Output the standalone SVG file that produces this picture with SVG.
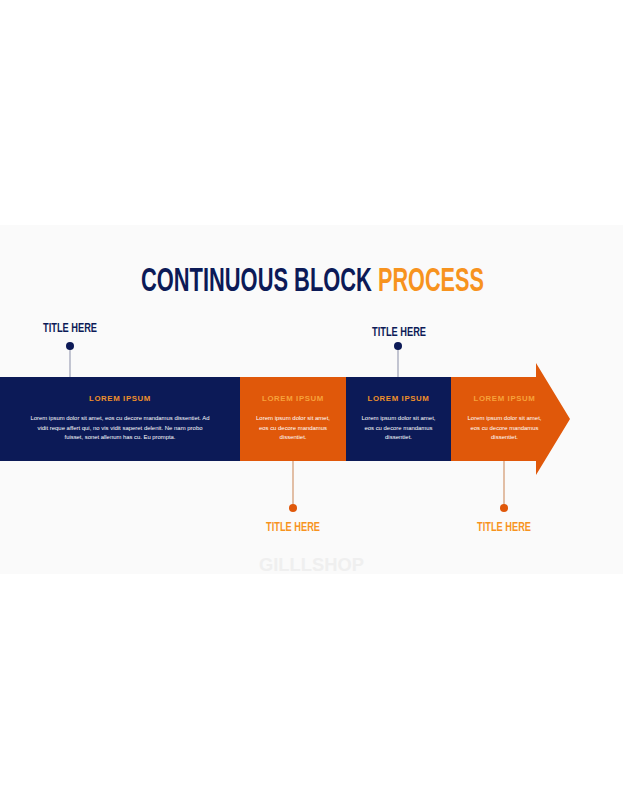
<svg xmlns="http://www.w3.org/2000/svg" width="623" height="800" viewBox="0 0 623 800">
<style>
.title{font-family:"Liberation Sans",Arial,sans-serif;font-weight:bold;font-size:33px}
.pin{font-family:"Liberation Sans",Arial,sans-serif;font-weight:bold;font-size:13px}
.head{font-family:"Liberation Sans",Arial,sans-serif;font-weight:bold;font-size:7.5px;letter-spacing:0.6px;text-anchor:middle}
.body{font-family:"Liberation Sans",Arial,sans-serif;font-size:5.3px;fill:#ffffff;text-anchor:middle}
.navy{fill:#0c1a57}
.orange{fill:#e0580a}
</style>
<rect x="0" y="0" width="623" height="800" fill="#ffffff"/>
<rect x="0" y="225" width="623" height="349" fill="#fafafa"/>
<text x="311.5" y="571" font-family="Liberation Sans,Arial,sans-serif" font-weight="bold" font-size="19" fill="#efefef" text-anchor="middle" textLength="105" lengthAdjust="spacingAndGlyphs">GILLLSHOP</text>
<g id="title">
<text class="title" transform="translate(141,291) scale(0.663,1)" x="0" y="0" fill="#0c1a57">CONTINUOUS BLOCK</text>
<text class="title" transform="translate(378,291) scale(0.657,1)" x="0" y="0" fill="#f7931e">PROCESS</text>
</g>
<g id="connectors">
<line x1="70" y1="346" x2="70" y2="377" stroke="#8a8fa8" stroke-width="1"/>
<line x1="398" y1="346" x2="398" y2="377" stroke="#8a8fa8" stroke-width="1"/>
<line x1="293" y1="461" x2="293" y2="508" stroke="#c98250" stroke-width="1"/>
<line x1="504" y1="461" x2="504" y2="508" stroke="#c98250" stroke-width="1"/>
</g>
<g id="block1">
<rect class="navy" x="0" y="377" width="240" height="84"/>
<text class="head" x="120" y="401" fill="#f0902a" textLength="62" lengthAdjust="spacingAndGlyphs">LOREM IPSUM</text>
<text class="body" x="120" y="420" textLength="179" lengthAdjust="spacingAndGlyphs">Lorem ipsum dolor sit amet, eos cu decore mandamus dissentiet. Ad</text>
<text class="body" x="120" y="429.5" textLength="165" lengthAdjust="spacingAndGlyphs">vidit reque affert qui, no vis vidit saperet delenit. Ne nam probo</text>
<text class="body" x="120" y="439" textLength="111" lengthAdjust="spacingAndGlyphs">fuisset, sonet allenum has cu. Eu prompta.</text>
</g>
<g id="block2">
<rect class="orange" x="240" y="377" width="106" height="84"/>
<text class="head" x="293" y="401" fill="#f7a23a" textLength="62" lengthAdjust="spacingAndGlyphs">LOREM IPSUM</text>
<text class="body" x="293" y="420" textLength="74" lengthAdjust="spacingAndGlyphs">Lorem ipsum dolor sit amet,</text>
<text class="body" x="293" y="429.5" textLength="68" lengthAdjust="spacingAndGlyphs">eos cu decore mandamus</text>
<text class="body" x="293" y="439" textLength="27" lengthAdjust="spacingAndGlyphs">dissentiet.</text>
</g>
<g id="block3">
<rect class="navy" x="346" y="377" width="105" height="84"/>
<text class="head" x="398.5" y="401" fill="#f0902a" textLength="62" lengthAdjust="spacingAndGlyphs">LOREM IPSUM</text>
<text class="body" x="398.5" y="420" textLength="74" lengthAdjust="spacingAndGlyphs">Lorem ipsum dolor sit amet,</text>
<text class="body" x="398.5" y="429.5" textLength="68" lengthAdjust="spacingAndGlyphs">eos cu decore mandamus</text>
<text class="body" x="398.5" y="439" textLength="27" lengthAdjust="spacingAndGlyphs">dissentiet.</text>
</g>
<g id="block4">
<polygon class="orange" points="451,377 536,377 536,363 570,419 536,475 536,461 451,461"/>
<text class="head" x="504.5" y="401" fill="#f7a23a" textLength="62" lengthAdjust="spacingAndGlyphs">LOREM IPSUM</text>
<text class="body" x="504.5" y="420" textLength="74" lengthAdjust="spacingAndGlyphs">Lorem ipsum dolor sit amet,</text>
<text class="body" x="504.5" y="429.5" textLength="68" lengthAdjust="spacingAndGlyphs">eos cu decore mandamus</text>
<text class="body" x="504.5" y="439" textLength="27" lengthAdjust="spacingAndGlyphs">dissentiet.</text>
</g>
<g id="pin1">
<circle cx="70" cy="346" r="4" fill="#0c1a57"/>
<text class="pin" x="70" y="332" fill="#0c1a57" text-anchor="middle" textLength="54" lengthAdjust="spacingAndGlyphs">TITLE HERE</text>
</g>
<g id="pin2">
<circle cx="398" cy="346" r="4" fill="#0c1a57"/>
<text class="pin" x="399" y="336" fill="#0c1a57" text-anchor="middle" textLength="54" lengthAdjust="spacingAndGlyphs">TITLE HERE</text>
</g>
<g id="pin3">
<circle cx="293" cy="508" r="4" fill="#e0580a"/>
<text class="pin" x="293" y="531" fill="#f7931e" text-anchor="middle" textLength="54" lengthAdjust="spacingAndGlyphs">TITLE HERE</text>
</g>
<g id="pin4">
<circle cx="504" cy="508" r="4" fill="#e0580a"/>
<text class="pin" x="504" y="531" fill="#f7931e" text-anchor="middle" textLength="54" lengthAdjust="spacingAndGlyphs">TITLE HERE</text>
</g>
</svg>
